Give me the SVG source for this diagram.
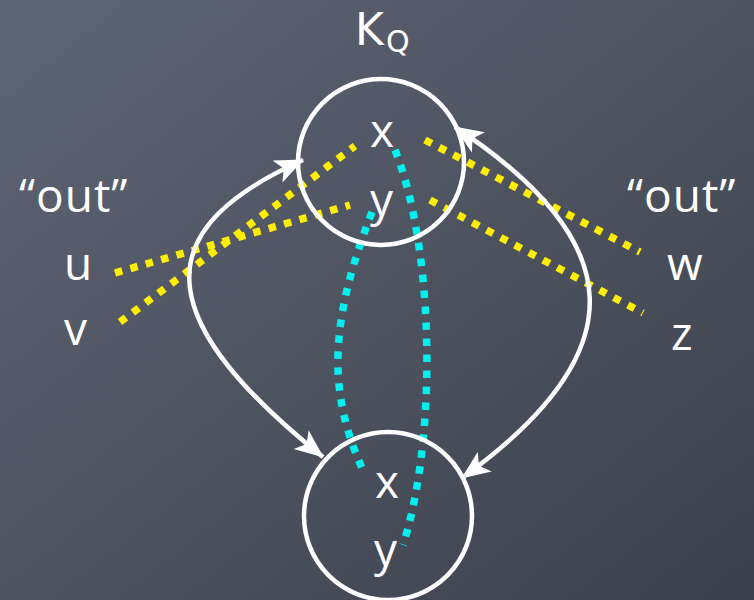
<svg xmlns="http://www.w3.org/2000/svg" width="754" height="600" viewBox="0 0 754 600">
<defs>
<linearGradient id="bg" x1="0" y1="0" x2="1" y2="1">
<stop offset="0" stop-color="#5e6574"/>
<stop offset="0.5" stop-color="#4e5360"/>
<stop offset="1" stop-color="#3c404d"/>
</linearGradient>
<marker id="ah" viewBox="0 0 30 26" markerUnits="userSpaceOnUse" markerWidth="30" markerHeight="26" refX="28" refY="13" orient="auto-start-reverse">
<path d="M0,1 L29,13 L0,25 L7,13 Z" fill="#ffffff"/>
</marker>
<style>
.lbl{font-family:"Open Sans","DejaVu Sans",sans-serif;fill:#ffffff;font-size:46px}
.kq{font-family:"DejaVu Sans","Open Sans",sans-serif;fill:#ffffff}
.ring{fill:none;stroke:#ffffff;stroke-width:4.5}
.arc{fill:none;stroke:#ffffff;stroke-width:4.5;marker-start:url(#ah);marker-end:url(#ah)}
.ydot{fill:none;stroke:#ffee00;stroke-width:7.5;stroke-dasharray:7.5 8.5}
.cdot{fill:none;stroke:#00f0f0;stroke-width:7.5;stroke-dasharray:7.5 8.5}
</style>
</defs>
<rect width="754" height="600" fill="url(#bg)"/>
<g id="labels">
<text class="kq" x="355" y="45" style="font-size:44px">K</text>
<text class="kq" x="386" y="52" style="font-size:30px">Q</text>
<text class="lbl" x="19" y="212" style="letter-spacing:1px">“out”</text>
<text class="lbl" x="627" y="212" style="letter-spacing:1px">“out”</text>
<text class="lbl" x="64" y="280">u</text>
<text class="lbl" x="64" y="345">v</text>
<text class="lbl" x="667" y="280">w</text>
<text class="lbl" x="671" y="350">z</text>
</g>
<g id="connectors">
<path class="ydot" d="M115,273 L350,205"/>
<path class="ydot" d="M120,322 L355,146"/>
<path class="ydot" d="M425,140 L640,252"/>
<path class="ydot" d="M430,200 L643,313"/>
<path class="cdot" d="M395,150 C435,250 437,440 403,545"/>
<path class="cdot" d="M372,212 C330,320 327,390 362,468"/>
<path class="arc" d="M303,160 C158,225 138,309 323,457"/>
<path class="arc" d="M455,127 C630,242 637,352 462,478"/>
</g>
<g id="node-top">
<circle class="ring" cx="381" cy="162" r="83"/>
<text class="lbl" x="370" y="147">x</text>
<text class="lbl" x="370" y="216">y</text>
</g>
<g id="node-bottom">
<circle class="ring" cx="388" cy="516" r="84"/>
<text class="lbl" x="375" y="498">x</text>
<text class="lbl" x="374" y="566">y</text>
</g>
</svg>
